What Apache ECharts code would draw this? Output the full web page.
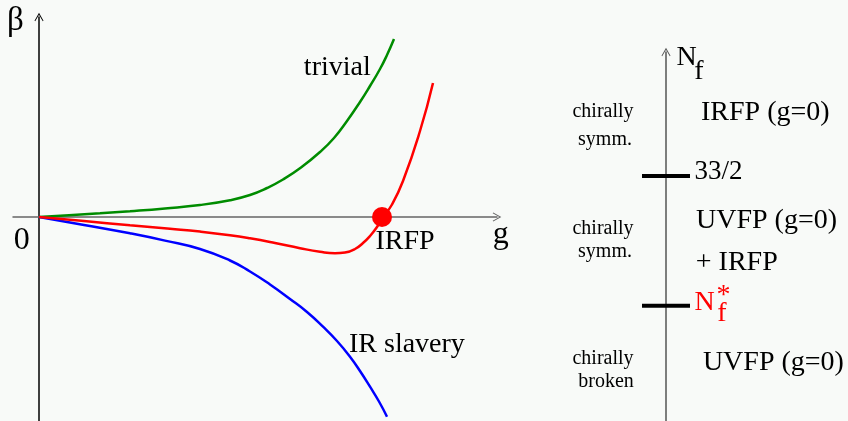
<!DOCTYPE html>
<html>
<head>
<meta charset="utf-8">
<script src="https://cdn.jsdelivr.net/npm/echarts@6/dist/echarts.min.js"></script>
<style>
  html, body { margin: 0; padding: 0; background: #f8faf8; }
  #chart { width: 848px; height: 421px; }
</style>
</head>
<body>
<div id="chart"></div>
<script>
// Beta function sketches: [g, beta] pairs in schematic units
const curveTrivial = [[0,0],[30,1.8],[61,3.7],[91,5.8],[126,8.6],[161,12],[191,16.8],[211,22],[228,29],[244,37.5],[262,49.5],[281,65],[295,79],[308,96],[321,115],[331,131],[341,148],[348,162],[355,178]];
const curveIRFP = [[0,0],[45,-4],[91,-8.3],[131,-11.8],[161,-14.6],[191,-18.2],[211,-21.3],[236,-26],[261,-31.2],[281,-34.8],[296,-36.3],[306,-35.5],[316,-32],[324,-26],[331,-19],[338,-10],[344,0],[353,12.5],[364,36],[381,86],[394,134]];
const curveSlavery = [[0,0],[45,-7.9],[91,-16.3],[126,-23.6],[161,-32],[191,-43.5],[211,-54.5],[231,-67.5],[251,-82],[268,-95],[284,-109.7],[298,-124],[311,-139.7],[321,-154],[331,-169.7],[340,-184.5],[348,-199.7]];
// infrared fixed point on the g axis
const irfpPoint = [[343, 0]];

// Flavour number axis: critical values
const nfCritical = [16.5, 12];

const serif = 'Liberation Serif, Times New Roman, serif';
const chevron = 'path://M0,0 L5,9 L4.2,9.6 L0,2.2 L-4.2,9.6 L-5,9 Z';

function txt(text, x, y, size, opts) {
  opts = opts || {};
  return {
    type: 'text', x: x, y: y, z: 100,
    style: {
      text: text,
      font: size + 'px ' + serif,
      fill: opts.fill || '#000',
      align: opts.align || 'left',
      verticalAlign: 'middle'
    }
  };
}

const chart = echarts.init(document.getElementById('chart'));
chart.setOption({
  backgroundColor: '#f8faf8',
  animation: false,
  grid: [
    { left: 13, top: 17, width: 484, height: 404 },
    { left: 642, top: 52, width: 48, height: 369 }
  ],
  xAxis: [
    {
      gridIndex: 0, type: 'value', min: -26, max: 458,
      axisLine: { show: true, onZero: true, symbol: ['none', chevron], symbolSize: [9, 10],
        lineStyle: { color: '#666', width: 1.5 } },
      axisTick: { show: false }, axisLabel: { show: false }, splitLine: { show: false }
    },
    {
      gridIndex: 1, type: 'value', min: -1, max: 1, show: false,
      axisLine: { onZero: false }
    }
  ],
  yAxis: [
    {
      gridIndex: 0, type: 'value', min: -204, max: 200,
      axisLine: { show: true, onZero: true, symbol: ['none', chevron], symbolSize: [9, 10],
        lineStyle: { color: '#000', width: 1.5 } },
      axisTick: { show: false }, axisLabel: { show: false }, splitLine: { show: false }
    },
    {
      gridIndex: 1, type: 'value', min: 8, max: 20.8,
      axisLine: { show: true, onZero: true, symbol: ['none', chevron], symbolSize: [9, 10],
        lineStyle: { color: '#555', width: 1.5 } },
      axisTick: { show: false }, axisLabel: { show: false }, splitLine: { show: false }
    }
  ],
  series: [
    { type: 'line', xAxisIndex: 0, yAxisIndex: 0, data: curveTrivial, smooth: 0.5, showSymbol: false,
      lineStyle: { color: '#008c00', width: 2.5 } },
    { type: 'line', xAxisIndex: 0, yAxisIndex: 0, data: curveSlavery, smooth: 0.5, showSymbol: false,
      lineStyle: { color: '#0000ff', width: 2.5 } },
    { type: 'line', xAxisIndex: 0, yAxisIndex: 0, data: curveIRFP, smooth: 0.5, showSymbol: false,
      lineStyle: { color: '#ff0000', width: 2.5 } },
    { type: 'scatter', xAxisIndex: 0, yAxisIndex: 0, data: irfpPoint, symbolSize: 20,
      itemStyle: { color: '#ff0000', opacity: 1 }, z: 5 },
    ...nfCritical.map(v => ({
      type: 'line', xAxisIndex: 1, yAxisIndex: 1, data: [[-1, v], [1, v]], showSymbol: false,
      lineStyle: { color: '#000', width: 4 }
    }))
  ],
  graphic: [
    txt('β', 7, 21, 33),
    txt('0', 21.7, 240.6, 32, { align: 'center' }),
    txt('g', 500.8, 234.8, 32, { align: 'center' }),
    txt('trivial', 337.3, 67.3, 28, { align: 'center' }),
    txt('IRFP', 405, 241.3, 28, { align: 'center' }),
    txt('IR slavery', 349, 344.6, 28),

    txt('N', 676.5, 58, 28),
    txt('f', 694.3, 72, 28),
    txt('chirally', 603, 112.1, 20, { align: 'center' }),
    txt('symm.', 605, 139.8, 20, { align: 'center' }),
    txt('IRFP (g=0)', 701, 113, 28),
    txt('33/2', 694.5, 172.3, 27),
    txt('chirally', 603, 228.8, 20, { align: 'center' }),
    txt('symm.', 605, 252.1, 20, { align: 'center' }),
    txt('UVFP (g=0)', 696, 220.6, 28),
    txt('+ IRFP', 695.8, 263, 28),
    txt('N', 694.6, 303, 28, { fill: '#ff0000' }),
    txt('f', 717.2, 314, 28, { fill: '#ff0000' }),
    txt('*', 716.5, 295.3, 28, { fill: '#ff0000' }),
    txt('chirally', 603, 358.8, 20, { align: 'center' }),
    txt('broken', 606, 382.1, 20, { align: 'center' }),
    txt('UVFP (g=0)', 702.9, 363, 28)
  ]
});
</script>
</body>
</html>
